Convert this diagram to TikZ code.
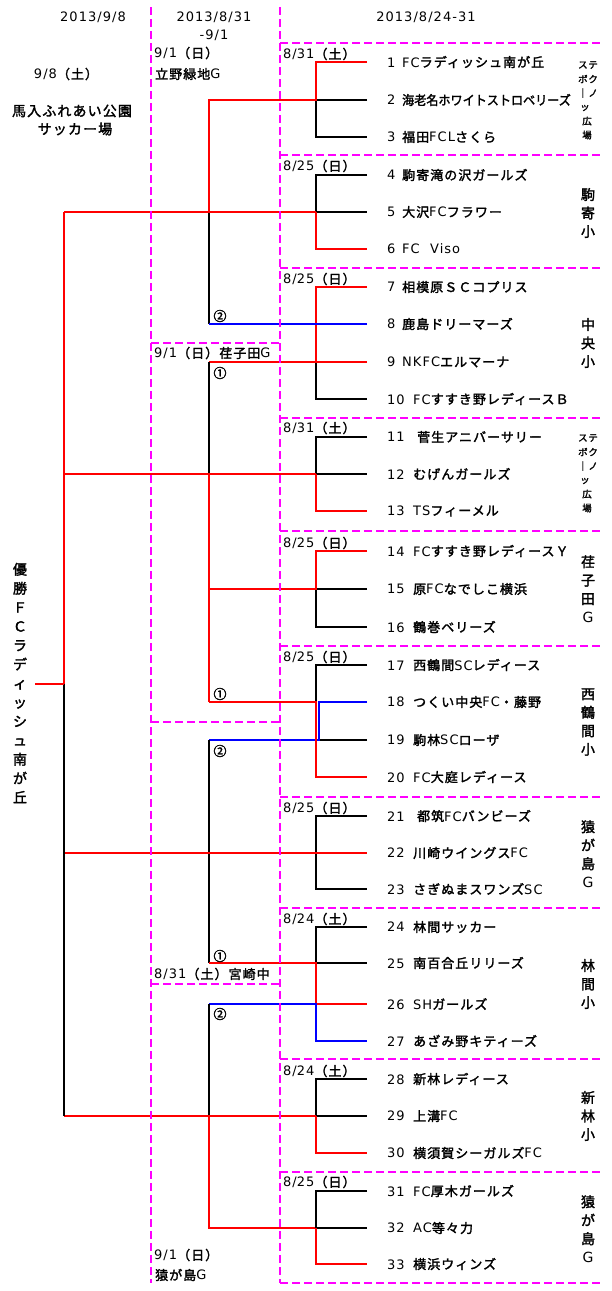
\documentclass[tikz,border=0pt]{standalone}
\usepackage{fontspec}
\setmainfont{Noto Sans CJK JP}[FakeBold=2,LetterSpace=8]
\newfontfamily\latfont{DejaVu Sans}[LetterSpace=8]
\newcommand\lt[1]{{\latfont #1}}
\usetikzlibrary{calc}
\definecolor{magdash}{RGB}{255,0,255}
\definecolor{redline}{RGB}{255,0,0}
\definecolor{blueline}{RGB}{0,0,255}
\newcommand\tmnum[2]{\makebox[\ifnum#1<10 15pt\else 26pt\fi][l]{\lt{#1}}#2}
\tikzset{
 redln/.style={draw=redline,line width=1.8pt},
 blueln/.style={draw=blueline,line width=1.8pt},
 blkln/.style={draw=black,line width=1.8pt},
 magln/.style={draw=magdash,line width=1.8pt,dash pattern=on 8pt off 4pt},
 lbl/.style={inner sep=0pt,font=\fontsize{13}{15}\selectfont},
 wlbl/.style={lbl,anchor=west},
 team/.style={lbl,anchor=west},
 vlab/.style={inner sep=0pt,align=center,font=\fontsize{14}{18.5}\selectfont},
 slab/.style={inner sep=0pt,font=\fontsize{9.5}{11}\selectfont},
 circ/.style={inner sep=0pt,font=\fontsize{13}{14}\selectfont},
}
\begin{document}
\begin{tikzpicture}[x=1pt,y=-1pt]
\useasboundingbox[fill=white] (0,0) rectangle (611,1291);
% column coordinates
\coordinate (c1) at (64,0);
\coordinate (c2) at (209,0);
\coordinate (c3) at (316,0);
\coordinate (c3b) at (319,0);
\coordinate (fin) at (35,684);
% teams
\foreach \i/\y/\nm in {
 1/62/\lt{FC}ラディッシュ南が丘,
 2/100/\scalebox{0.93}[1]{\addfontfeature{LetterSpace=0}海老名ホワイトストロベリーズ},
 3/137/福田\lt{FCL}さくら,
 4/175/駒寄滝の沢ガールズ,
 5/212/大沢\lt{FC}フラワー,
 6/249/\lt{FC\ \ Viso},
 7/287/相模原ＳＣコプリス,
 8/324/鹿島ドリーマーズ,
 9/362/\lt{NKFC}エルマーナ,
 10/399/\lt{FC}すすき野レディースＢ,
 11/437/\ 菅生アニバーサリー,
 12/474/むげんガールズ,
 13/511/\lt{TS}フィーメル,
 14/551/\lt{FC}すすき野レディースＹ,
 15/589/原\lt{FC}なでしこ横浜,
 16/627/鶴巻ベリーズ,
 17/665/西鶴間\lt{SC}レディース,
 18/702/つくい中央\lt{FC}・藤野,
 19/740/駒林\lt{SC}ローザ,
 20/777/\lt{FC}大庭レディース,
 21/816/\ 都筑\lt{FC}バンビーズ,
 22/853/川崎ウイングス\lt{FC},
 23/889/さぎぬまスワンズ\lt{SC},
 24/927/林間サッカー,
 25/963/南百合丘リリーズ,
 26/1004/\lt{SH}ガールズ,
 27/1041/あざみ野キティーズ,
 28/1079/新林レディース,
 29/1116/上溝\lt{FC},
 30/1153/横須賀シーガルズ\lt{FC},
 31/1191/\lt{FC}厚木ガールズ,
 32/1228/\lt{AC}等々力,
 33/1264/横浜ウィンズ}{
 \coordinate (t\i) at (367,\y);
 \node[team] (n\i) at (387,\y) {\tmnum{\i}{\nm}};
}
% ---------- bracket lines ----------
% section 1
\draw[blkln] (t2)--(t2-|c3)--(t3-|c3)--(t3);
\draw[redln] (t1)--(t1-|c3)--(t2-|c3)--(t2-|c2)--(t5-|c2);
\draw[blkln] (t4)--(t4-|c3)--(t5-|c3)--(t5);
\draw[redln] (t5-|c3)--(t6-|c3)--(t6);
\draw[blkln] (t5-|c2)--(t8-|c2);
\draw[redln] (t5-|c1)--(t5-|c3);
\draw[redln] (t7)--(t7-|c3)--(t9-|c3);
\draw[blkln] (t9-|c3)--(t10-|c3)--(t10);
\draw[blueln] (t8)--(t8-|c2);
% section 2
\draw[redln] (t9)--(t9-|c2);
\draw[blkln] (t9-|c2)--(t12-|c2);
\draw[redln] (t12-|c2)--(t18-|c2);
\draw[blkln] (t11)--(t11-|c3)--(t12-|c3)--(t12);
\draw[redln] (t12-|c3)--(t13-|c3)--(t13);
\draw[redln] (t12-|c1)--(t12-|c3);
\draw[blkln] (t15)--(t15-|c3)--(t16-|c3)--(t16);
\draw[redln] (t14)--(t14-|c3)--(t15-|c3)--(t15-|c2);
\draw[blkln] (t17)--(t17-|c3)--(t18-|c3);
\draw[blkln] (t19)--(t19-|c3b);
\draw[blueln] (t18)--(t18-|c3b)--(t19-|c3b)--(t19-|c2);
\draw[redln] (t18-|c2)--(t18-|c3)--(t20-|c3)--(t20);
% section 3
\draw[blkln] (t19-|c2)--(t25-|c2);
\draw[blkln] (t21)--(t21-|c3)--(t23-|c3)--(t23);
\draw[redln] (t22-|c1)--(t22);
\draw[blkln] (t24)--(t24-|c3)--(t25-|c3)--(t25);
\draw[redln] (t25-|c2)--(t25-|c3)--(t26-|c3)--(t26);
\draw[blueln] (t26-|c2)--(t26-|c3)--(t27-|c3)--(t27);
% section 4
\draw[blkln] (t26-|c2)--(t29-|c2);
\draw[redln] (t29-|c2)--(t32-|c2)--(t32-|c3);
\draw[blkln] (t28)--(t28-|c3)--(t29-|c3)--(t29);
\draw[redln] (t29-|c3)--(t30-|c3)--(t30);
\draw[redln] (t29-|c1)--(t29-|c3);
\draw[blkln] (t31)--(t31-|c3)--(t32-|c3)--(t32);
\draw[redln] (t32-|c3)--(t33-|c3)--(t33);
% final column
\draw[blkln] (fin-|c1)--(t29-|c1);
\draw[redln] (t5-|c1)--(fin-|c1);
\draw[redln] (fin)--(fin-|c1);
% ---------- dashed frames ----------
\coordinate (m1t) at (151,7);
\coordinate (m1b) at (151,1283);
\coordinate (m2t) at (280,7);
\coordinate (m2b) at (280,1283);
\draw[magln] (m1t)--(m1b);
\draw[magln] (m2t)--(m2b);
\foreach \y in {43,155,268,418,531,646,797,908,1059,1172,1283}{
 \draw[magln] (280,\y)--(601,\y);
}
\foreach \y in {343,722,984}{
 \draw[magln] (151,\y)--(280,\y);
}
% ---------- headers ----------
\node[lbl] (h1) at (93,17) {\lt{2013/9/8}};
\node[lbl] (h2) at (214,17) {\lt{2013/8/31}};
\node[lbl] (h2b) at (214,35) {\lt{-9/1}};
\node[lbl] (h3) at (426,17) {\lt{2013/8/24-31}};
\node[lbl] (d0) at (66,74) {\lt{9/8}（土）};
\node[lbl,font=\fontsize{14}{16}\selectfont] (v0a) at (72,111) {馬入ふれあい公園};
\node[lbl,font=\fontsize{14}{16}\selectfont] (v0b) at (75,129) {サッカー場};
% column 2 labels
\node[wlbl] (d1) at (154,53) {\lt{9/1}（日）};
\node[wlbl] (v1) at (155,74) {立野緑地\lt{G}};
\node[wlbl] (d2) at (154,353) {\lt{9/1}（日）荏子田\lt{G}};
\node[wlbl] (d3) at (154,974) {\lt{8/31}（土）宮崎中};
\node[wlbl] (d4) at (154,1255) {\lt{9/1}（日）};
\node[wlbl] (v4) at (155,1275) {猿が島\lt{G}};
\node[circ] (q1) at (220,316) {②};
\node[circ] (q2) at (220,373) {①};
\node[circ] (q3) at (220,694) {①};
\node[circ] (q4) at (220,751) {②};
\node[circ] (q5) at (220,956) {①};
\node[circ] (q6) at (220,1014) {②};
% column 3 date labels
\foreach \k/\y/\d/\w in {1/54/8\slash31/土,2/166/8\slash25/日,3/279/8\slash25/日,4/428/8\slash31/土,
 5/543/8\slash25/日,6/657/8\slash25/日,7/808/8\slash25/日,8/919/8\slash24/土,
 9/1071/8\slash24/土,10/1182/8\slash25/日}{
 \node[wlbl] (bd\k) at (283,\y) {\lt{\d}（\w）};
}
% venue labels
\foreach \k/\y in {1/65,4/438}{
 \node[slab] (s\k a) at (588,\y) {ステ};
 \node[slab] (s\k b) at (588,\y+14) {ボク};
 \node[slab] (s\k c) at (588,\y+28) {｜ノ};
 \node[slab] (s\k d) at (585,\y+43) {ッ};
 \node[slab] (s\k e) at (587,\y+56) {広};
 \node[slab] (s\k f) at (587,\y+70) {場};
}
\node[vlab] (vb2) at (588,213) {駒\\寄\\小};
\node[vlab] (vb3) at (588,343) {中\\央\\小};
\node[vlab] (vb5) at (588,589) {荏\\子\\田\\\lt{G}};
\node[vlab] (vb6) at (588,722) {西\\鶴\\間\\小};
\node[vlab] (vb7) at (588,854) {猿\\が\\島\\\lt{G}};
\node[vlab] (vb8) at (588,984) {林\\間\\小};
\node[vlab] (vb9) at (588,1116) {新\\林\\小};
\node[vlab] (vb10) at (588,1229) {猿\\が\\島\\\lt{G}};
% champion
\node[vlab,font=\fontsize{14}{19}\selectfont] (champ) at (20,683)
 {優\\勝\\Ｆ\\Ｃ\\ラ\\デ\\ィ\\ッ\\シ\\ュ\\南\\が\\丘};
\end{tikzpicture}
\end{document}
